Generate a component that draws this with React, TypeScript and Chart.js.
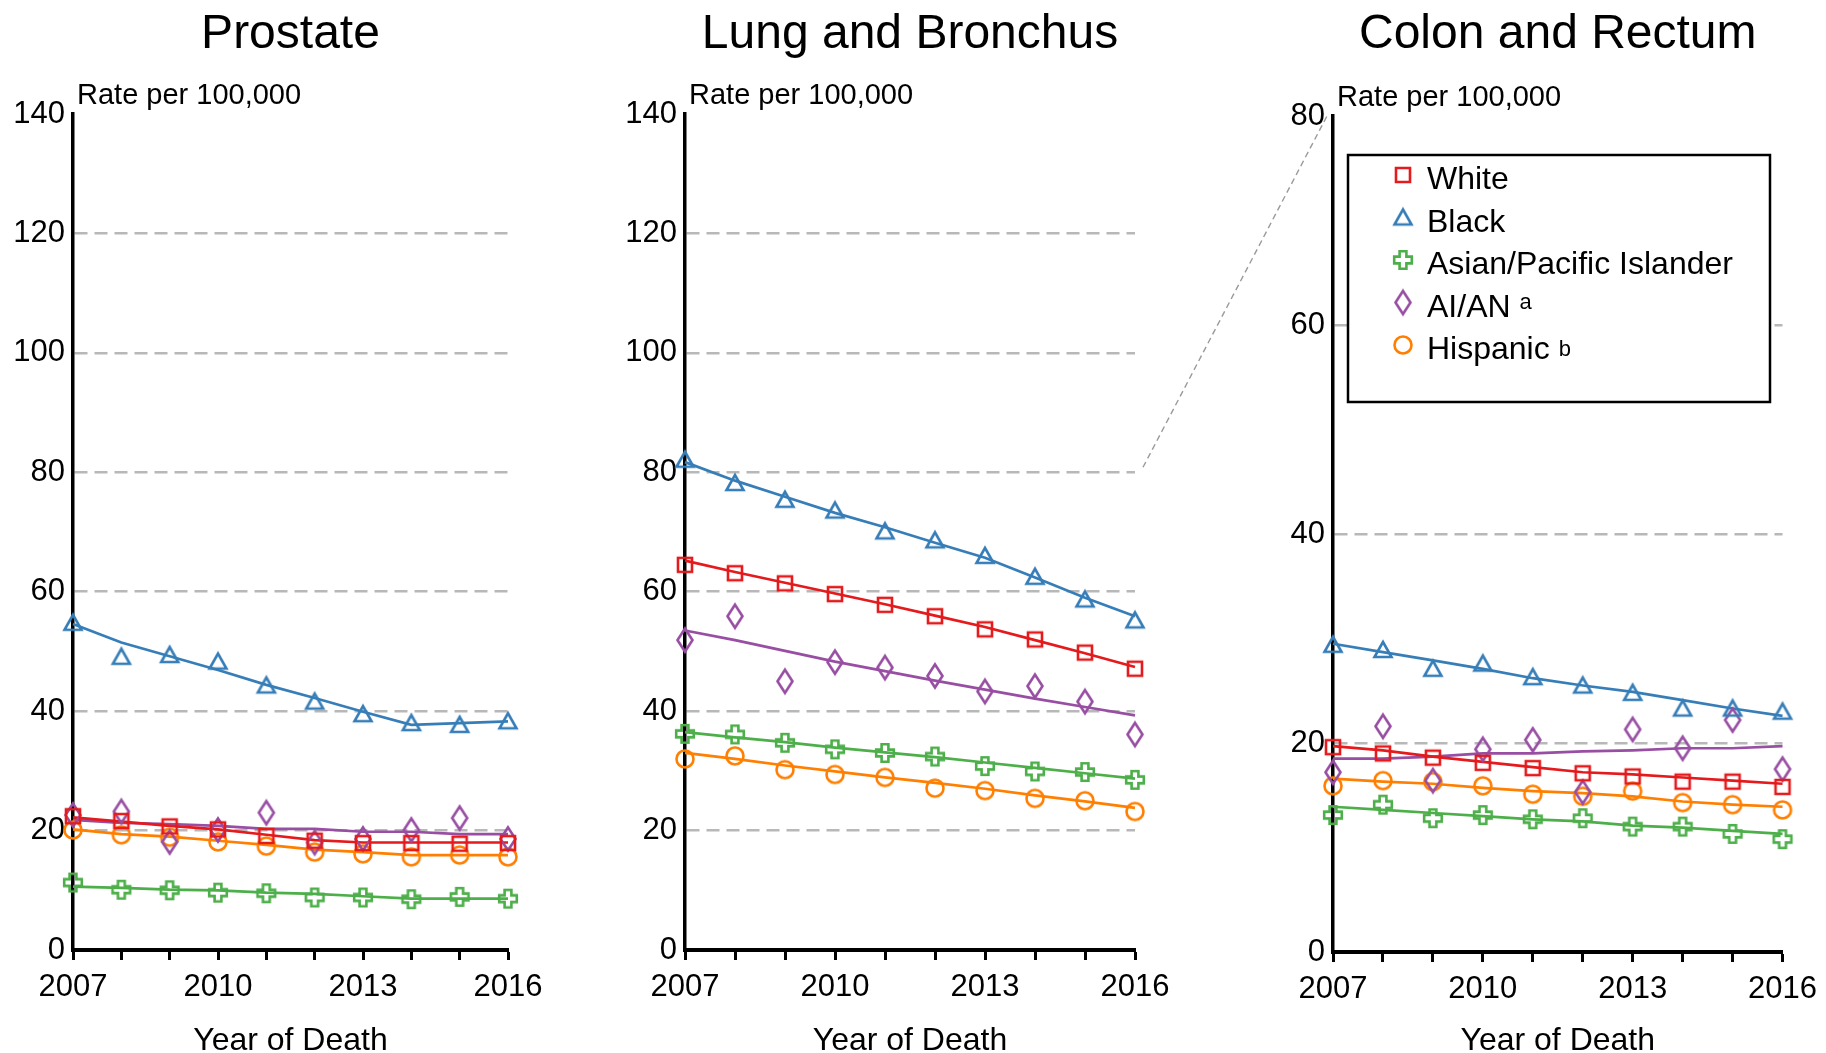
import React, { useEffect, useRef } from "react";
import { Chart, registerables } from "chart.js";

Chart.register(...registerables);

// ---------------- DATA ----------------
const years = [2007, 2008, 2009, 2010, 2011, 2012, 2013, 2014, 2015, 2016];
const xTickLabels = [2007, 2010, 2013, 2016];
const raceLabels = ["White", "Black", "Asian/Pacific Islander", "AI/AN", "Hispanic"];
const raceSuperscripts = ["", "", "", "a", "b"];
const panelTitles = ["Prostate", "Lung and Bronchus", "Colon and Rectum"];
const yAxisMax = [140, 140, 80];
const yAxisLabel = "Rate per 100,000";
const xAxisLabel = "Year of Death";

// Prostate
const prostateWhiteObs = [22.4, 21.6, 20.7, 20.2, 19.1, 18.3, 17.9, 17.9, 17.8, 17.9];
const prostateWhiteTrend = [22.2, 21.5, 20.8, 20.2, 19.3, 18.4, 18.0, 18.0, 18.0, 18.0];
const prostateBlackObs = [54.8, 49.1, 49.4, 48.3, 44.3, 41.6, 39.5, 38.0, 37.7, 38.3];
const prostateBlackTrend = [54.6, 51.5, 49.2, 46.9, 44.4, 42.2, 39.9, 37.7, 38.0, 38.3];
const prostateAsianObs = [11.3, 10.1, 10.0, 9.6, 9.5, 8.8, 8.8, 8.5, 8.9, 8.6];
const prostateAsianTrend = [10.6, 10.4, 10.1, 10.0, 9.6, 9.4, 9.0, 8.6, 8.6, 8.6];
const prostateAianObs = [22.6, 23.2, 18.1, 20.1, 23.0, 18.0, 18.6, 20.1, 22.1, 18.6];
const prostateAianTrend = [21.8, 21.3, 21.1, 20.8, 20.3, 20.3, 19.8, 19.8, 19.4, 19.4];
const prostateHispObs = [20.1, 19.3, 18.9, 18.1, 17.4, 16.4, 16.1, 15.6, 15.9, 15.6];
const prostateHispTrend = [20.2, 19.4, 19.0, 18.3, 17.6, 16.8, 16.4, 15.9, 15.9, 15.9];

// Lung and Bronchus
const lungWhiteObs = [64.5, 63.1, 61.4, 59.6, 57.8, 55.9, 53.7, 52.0, 49.8, 47.1];
const lungWhiteTrend = [65.2, 63.3, 61.5, 59.7, 57.9, 56.0, 54.1, 51.9, 49.7, 47.4];
const lungBlackObs = [82.1, 78.2, 75.4, 73.6, 70.1, 68.6, 66.0, 62.5, 58.7, 55.2];
const lungBlackTrend = [81.7, 78.6, 75.9, 73.2, 70.8, 68.2, 65.7, 62.4, 59.0, 55.9];
const lungAsianObs = [36.2, 36.1, 34.7, 33.6, 33.0, 32.4, 30.8, 29.9, 29.8, 28.5];
const lungAsianTrend = [36.5, 35.6, 34.8, 33.9, 33.1, 32.3, 31.4, 30.5, 29.6, 28.7];
const lungAianObs = [51.9, 55.9, 45.0, 48.2, 47.3, 45.9, 43.3, 44.2, 41.6, 36.1];
const lungAianTrend = [53.5, 51.9, 50.1, 48.3, 46.7, 45.1, 43.6, 42.1, 40.7, 39.3];
const lungHispObs = [32.0, 32.5, 30.2, 29.4, 28.9, 27.1, 26.7, 25.4, 25.0, 23.2];
const lungHispTrend = [33.0, 32.0, 30.9, 29.9, 28.9, 28.0, 27.0, 25.9, 24.9, 23.8];

// Colon and Rectum
const colonWhiteObs = [19.6, 19.0, 18.6, 18.1, 17.6, 17.1, 16.8, 16.3, 16.3, 15.8];
const colonWhiteTrend = [19.7, 19.3, 18.7, 18.2, 17.7, 17.2, 17.0, 16.7, 16.4, 16.1];
const colonBlackObs = [29.4, 28.9, 27.1, 27.6, 26.3, 25.5, 24.8, 23.3, 23.3, 23.0];
const colonBlackTrend = [29.5, 28.7, 27.9, 27.1, 26.2, 25.5, 24.9, 24.1, 23.3, 22.6];
const colonAsianObs = [13.1, 14.1, 12.8, 13.1, 12.7, 12.8, 12.0, 12.0, 11.3, 10.8];
const colonAsianTrend = [13.9, 13.6, 13.3, 13.0, 12.7, 12.5, 12.1, 11.9, 11.6, 11.3];
const colonAianObs = [17.2, 21.6, 16.4, 19.4, 20.3, 15.3, 21.3, 19.5, 22.2, 17.5];
const colonAianTrend = [18.5, 18.5, 18.7, 19.0, 19.0, 19.2, 19.3, 19.5, 19.5, 19.7];
const colonHispObs = [15.9, 16.4, 16.3, 15.9, 15.1, 14.9, 15.4, 14.3, 14.1, 13.6];
const colonHispTrend = [16.6, 16.3, 16.1, 15.7, 15.4, 15.2, 14.9, 14.4, 14.1, 13.9];

// ---------------- STYLE / LAYOUT ----------------
const COLORS = ["#e41a1c", "#377eb8", "#4daf4a", "#984ea3", "#ff7f00"];
const SHAPES = ["square", "triangle", "plus", "diamond", "circle"];
const FONT = "'Liberation Sans', Arial, Helvetica, sans-serif";
const CANVAS_H = 1060;
const TITLE_SIZE = 48;
const TICK_SIZE = 31;
const AXIS_TITLE_SIZE = 32;

const panelLayout = [
  { left: 0, width: 600, axisW: 73, padRight: 92, top: 114, bottom: 950 },
  { left: 600, width: 600, axisW: 85, padRight: 65, top: 114, bottom: 950 },
  { left: 1200, width: 626, axisW: 133, padRight: 43, top: 116, bottom: 952 },
];

const panelObs = [
  [prostateWhiteObs, prostateBlackObs, prostateAsianObs, prostateAianObs, prostateHispObs],
  [lungWhiteObs, lungBlackObs, lungAsianObs, lungAianObs, lungHispObs],
  [colonWhiteObs, colonBlackObs, colonAsianObs, colonAianObs, colonHispObs],
];
const panelTrend = [
  [prostateWhiteTrend, prostateBlackTrend, prostateAsianTrend, prostateAianTrend, prostateHispTrend],
  [lungWhiteTrend, lungBlackTrend, lungAsianTrend, lungAianTrend, lungHispTrend],
  [colonWhiteTrend, colonBlackTrend, colonAsianTrend, colonAianTrend, colonHispTrend],
];

function makeMarker(shape: string, color: string): HTMLCanvasElement {
  const c = document.createElement("canvas");
  const W = 30, H = 32;
  c.width = W;
  c.height = H;
  const ctx = c.getContext("2d")!;
  ctx.strokeStyle = color;
  ctx.lineWidth = 2.6;
  ctx.lineJoin = "miter";
  const cx = W / 2, cy = H / 2;
  ctx.beginPath();
  if (shape === "square") {
    ctx.rect(cx - 7, cy - 7, 14, 14);
  } else if (shape === "triangle") {
    ctx.moveTo(cx, cy - 8);
    ctx.lineTo(cx + 8.5, cy + 7);
    ctx.lineTo(cx - 8.5, cy + 7);
    ctx.closePath();
  } else if (shape === "plus") {
    const a = 3.4, b = 8.8;
    const pts = [
      [-a, -b], [a, -b], [a, -a], [b, -a], [b, a], [a, a],
      [a, b], [-a, b], [-a, a], [-b, a], [-b, -a], [-a, -a],
    ];
    pts.forEach(([px, py], i) => (i ? ctx.lineTo(cx + px, cy + py) : ctx.moveTo(cx + px, cy + py)));
    ctx.closePath();
  } else if (shape === "diamond") {
    ctx.moveTo(cx, cy - 11.5);
    ctx.lineTo(cx + 7.5, cy);
    ctx.lineTo(cx, cy + 11.5);
    ctx.lineTo(cx - 7.5, cy);
    ctx.closePath();
  } else {
    ctx.arc(cx, cy, 8.5, 0, Math.PI * 2);
  }
  ctx.stroke();
  return c;
}

const rateLabelPlugin = {
  id: "rateLabel",
  afterDraw(chart: any) {
    const { ctx, chartArea } = chart;
    ctx.save();
    ctx.font = `29px ${FONT}`;
    ctx.fillStyle = "#000";
    ctx.textAlign = "left";
    ctx.textBaseline = "alphabetic";
    ctx.fillText(yAxisLabel, chartArea.left + 4, chartArea.top - 10);
    ctx.restore();
  },
};

function makeLegendPlugin(markers: HTMLCanvasElement[]) {
  return {
    id: "boxLegend",
    afterDraw(chart: any) {
      const { ctx, chartArea } = chart;
      const L = chartArea.left, T = chartArea.top;
      ctx.save();
      ctx.fillStyle = "#fff";
      ctx.fillRect(L + 15, T + 39, 422, 247);
      ctx.strokeStyle = "#000";
      ctx.lineWidth = 2.5;
      ctx.strokeRect(L + 15, T + 39, 422, 247);
      raceLabels.forEach((lab, k) => {
        const rowY = T + 62 + 42.5 * k;
        const m = markers[k];
        ctx.drawImage(m, L + 70 - m.width / 2, rowY - 3 - m.height / 2);
        ctx.font = `32px ${FONT}`;
        ctx.fillStyle = "#000";
        ctx.textAlign = "left";
        ctx.textBaseline = "alphabetic";
        const tx = L + 94;
        const base = rowY + 11;
        ctx.fillText(lab, tx, base);
        const sup = raceSuperscripts[k];
        if (sup) {
          const w = ctx.measureText(lab).width;
          ctx.font = `22px ${FONT}`;
          ctx.fillText(sup, tx + w + 9, base - (sup === "a" ? 8 : 3));
        }
      });
      ctx.restore();
    },
  };
}

function buildConfig(p: number, markers: HTMLCanvasElement[]): any {
  const lay = panelLayout[p];
  const yMax = yAxisMax[p];
  const datasets: any[] = [];
  panelObs[p].forEach((arr, k) => {
    datasets.push({
      label: raceLabels[k],
      data: years.map((yr, j) => ({ x: yr, y: arr[j] })),
      showLine: false,
      pointStyle: markers[k],
      pointRadius: 8,
      borderColor: COLORS[k],
      backgroundColor: "transparent",
      clip: false,
    });
  });
  panelTrend[p].forEach((arr, k) => {
    datasets.push({
      label: raceLabels[k] + " trend",
      data: years.map((yr, j) => ({ x: yr, y: arr[j] })),
      borderColor: COLORS[k],
      borderWidth: 2.7,
      pointRadius: 0,
      tension: 0,
      fill: false,
      clip: false,
    });
  });
  const plugins: any[] = [rateLabelPlugin];
  if (p === 2) plugins.push(makeLegendPlugin(markers));
  const titleLH = TITLE_SIZE * 1.2;
  return {
    type: "line",
    data: { datasets },
    plugins,
    options: {
      responsive: false,
      animation: false,
      events: [],
      layout: { padding: { left: 0, right: lay.padRight, top: 0, bottom: 0 } },
      plugins: {
        legend: { display: false },
        tooltip: { enabled: false },
        title: {
          display: true,
          text: panelTitles[p],
          fullSize: false,
          color: "#000",
          font: { size: TITLE_SIZE, weight: "normal", family: FONT, lineHeight: 1.2 },
          padding: { top: 6, bottom: lay.top - 6 - titleLH },
        },
      },
      scales: {
        x: {
          type: "linear",
          min: 2007,
          max: 2016,
          afterFit: (s: any) => {
            s.height = CANVAS_H - lay.bottom;
          },
          ticks: {
            stepSize: 1,
            autoSkip: false,
            maxRotation: 0,
            minRotation: 0,
            color: "#000",
            font: { size: TICK_SIZE, family: FONT },
            padding: 9,
            callback: (v: any) => (xTickLabels.includes(Math.round(Number(v))) ? String(Math.round(Number(v))) : ""),
          },
          grid: {
            display: true,
            drawOnChartArea: false,
            drawTicks: true,
            tickLength: 10,
            tickWidth: 3,
            tickColor: "#000",
          },
          border: { display: true, color: "#000", width: 4 },
          title: {
            display: true,
            text: xAxisLabel,
            color: "#000",
            font: { size: AXIS_TITLE_SIZE, family: FONT, lineHeight: 1.2 },
            padding: { top: 0, bottom: 0 },
          },
        },
        y: {
          type: "linear",
          min: 0,
          max: yMax,
          afterFit: (s: any) => {
            s.width = lay.axisW;
          },
          ticks: {
            stepSize: 20,
            color: "#000",
            font: { size: TICK_SIZE, family: FONT },
            padding: 8,
          },
          grid: {
            drawTicks: false,
            lineWidth: 2.5,
            color: (c: any) =>
              c.tick && (c.tick.value === 0 || c.tick.value === yMax) ? "rgba(0,0,0,0)" : "#b8b8b8",
          },
          border: { display: true, color: "#000", width: 3.5, dash: [13, 7] },
        },
      },
    },
  };
}

export default function App() {
  const r0 = useRef<HTMLCanvasElement>(null);
  const r1 = useRef<HTMLCanvasElement>(null);
  const r2 = useRef<HTMLCanvasElement>(null);
  const overlay = useRef<HTMLCanvasElement>(null);

  useEffect(() => {
    Chart.defaults.font.family = FONT;
    Chart.defaults.color = "#000";
    const markers = SHAPES.map((s, k) => makeMarker(s, COLORS[k]));
    const refs = [r0, r1, r2];
    const charts = refs.map((r, p) => new Chart(r.current!, buildConfig(p, markers)));

    // connector between lung 80 gridline and colon axis top
    const oc = overlay.current!;
    const octx = oc.getContext("2d")!;
    octx.clearRect(0, 0, oc.width, oc.height);
    const lung = charts[1] as any;
    const colon = charts[2] as any;
    const x1 = panelLayout[1].left + lung.chartArea.right + 8;
    const y1 = lung.scales.y.getPixelForValue(80) - 5;
    const x2 = panelLayout[2].left + colon.chartArea.left - 6;
    const y2 = colon.scales.y.getPixelForValue(yAxisMax[2]);
    octx.save();
    octx.strokeStyle = "#9a9a9a";
    octx.lineWidth = 1.4;
    octx.setLineDash([6, 4]);
    octx.beginPath();
    octx.moveTo(x1, y1);
    octx.lineTo(x2, y2);
    octx.stroke();
    octx.restore();

    return () => charts.forEach((c) => c.destroy());
  }, []);

  const canvasRefs = [r0, r1, r2];
  return (
    <div
      style={{
        position: "absolute",
        left: 0,
        top: 0,
        width: 1826,
        height: 1053,
        overflow: "hidden",
        background: "#fff",
      }}
    >
      {panelLayout.map((lay, p) => (
        <canvas
          key={p}
          ref={canvasRefs[p]}
          width={lay.width}
          height={CANVAS_H}
          style={{ position: "absolute", left: lay.left, top: 0, width: lay.width, height: CANVAS_H }}
        />
      ))}
      <canvas
        ref={overlay}
        width={1826}
        height={1053}
        style={{ position: "absolute", left: 0, top: 0, width: 1826, height: 1053, pointerEvents: "none" }}
      />
    </div>
  );
}
